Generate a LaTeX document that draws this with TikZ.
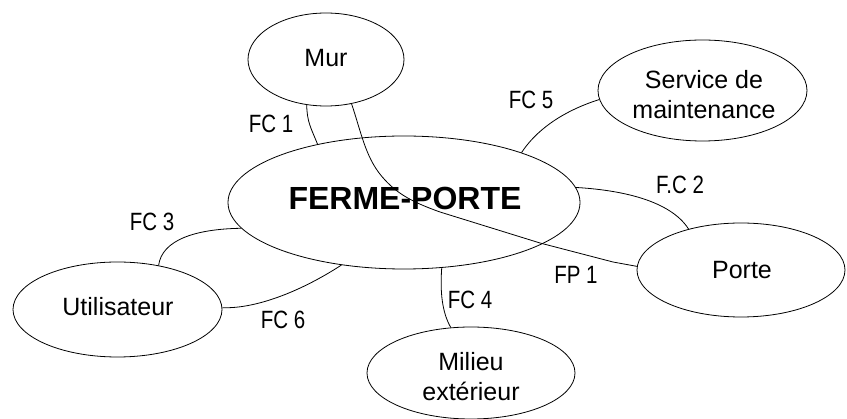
\documentclass[tikz,border=0pt]{standalone}
\usepackage{fontspec}
\setmainfont{Liberation Sans}
\newfontfamily\narrowfont[FakeStretch=0.82]{Liberation Sans}
\usetikzlibrary{shapes.geometric}
\begin{document}
\begin{tikzpicture}[x=1pt,y=-1pt,
  ell/.style={draw, ellipse, inner sep=0pt, line width=0.8pt},
  txt/.style={inner sep=0pt, align=center, font=\fontsize{25}{30}\selectfont},
  lab/.style={inner sep=0pt, font=\narrowfont\fontsize{25}{30}\selectfont},
  conn/.style={line width=0.8pt}]
\useasboundingbox[fill=white] (0,0) rectangle (847,419);
% ellipses
\node[ell, minimum width=352pt, minimum height=133pt] (fp) at (404,202.5) {};
\node[ell, minimum width=156pt, minimum height=93pt] (mur) at (326,59.5) {};
\node[ell, minimum width=209pt, minimum height=101pt] (serv) at (702.5,90.5) {};
\node[ell, minimum width=208pt, minimum height=94pt] (porte) at (741,270) {};
\node[ell, minimum width=209pt, minimum height=95pt] (util) at (117.5,309.5) {};
\node[ell, minimum width=208pt, minimum height=92pt] (mil) at (471,373) {};
% texts
\node[txt, font=\bfseries\fontsize{32}{36}\selectfont] (tfp) at (405,198) {FERME-PORTE};
\node[txt] (tmur) at (326,58) {Mur};
\node[txt] (tserv) at (704,95) {Service de\\maintenance};
\node[txt] (tporte) at (742,270) {Porte};
\node[txt] (tutil) at (118,307) {Utilisateur};
\node[txt] (tmil) at (471,377) {Milieu\\extérieur};
% connectors
\draw[conn] (mur.247.6) .. controls (307,122) and (311,128) .. (fp.146.5);
\draw[conn] (mur.300) .. controls (362,135) and (366,160) .. (385,180)
   .. controls (398,194) and (412,202) .. (440,212)
   -- (540,243) -- (613,262) -- (porte.178.9);
\draw[conn] (fp.23.9) .. controls (535,132) and (560,112) .. (serv.185.8);
\draw[conn] (fp.5.1) .. controls (620,190) and (670,200) .. (porte.142.3);
\draw[conn] (fp.189.3) .. controls (195,229) and (162,240) .. (util.47);
\draw[conn] (util.1) .. controls (255,309) and (300,292) .. (fp.225.7);
\draw[conn] (fp.300) .. controls (440,292) and (442,312) .. (mil.114.5);
% labels
\node[lab] (l1) at (271,124) {FC 1};
\node[lab] (l5) at (531,100) {FC 5};
\node[lab] (l2) at (680,185) {F.C 2};
\node[lab] (l3) at (152,222) {FC 3};
\node[lab] (l6) at (283,320) {FC 6};
\node[lab] (l4) at (470,300) {FC 4};
\node[lab] (lp) at (576,275) {FP 1};
\end{tikzpicture}
\end{document}
